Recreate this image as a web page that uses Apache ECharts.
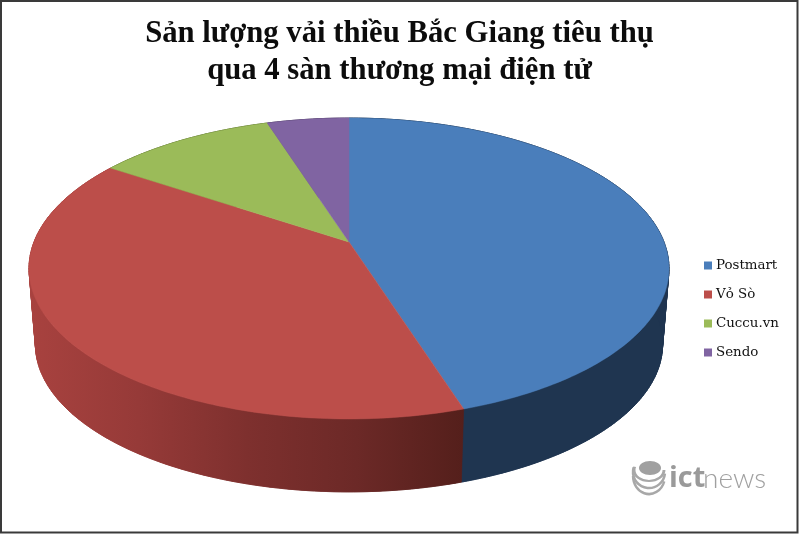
<!DOCTYPE html>
<html>
<head>
<meta charset="utf-8">
<script src="https://cdn.jsdelivr.net/npm/echarts@6/dist/echarts.min.js"></script>
<style>html,body{margin:0;padding:0;background:#fff}#c{width:799px;height:535px}</style>
</head>
<body>
<div id="c"></div>
<script>
var categories = ['Postmart', 'Vỏ Sò', 'Cuccu.vn', 'Sendo'];
var shares = [45.1, 39.3, 10.7, 4.9];
var topColors = ['#4a7ebb', '#bc4e4a', '#9bbb59', '#8064a2'];
var titleText = 'Sản lượng vải thiều Bắc Giang tiêu thụ\nqua 4 sàn thương mại điện tử';

var chart = echarts.init(document.getElementById('c'), null, {renderer: 'canvas'});

// perspective disc model
var CX = 349, CY = 242, A = 315, B = 145.8, K = 0.176, DROP = 76.5, SHRINK = 0.98;
function project(deg, scale, dy) {
  var t = deg * Math.PI / 180, u = Math.sin(t), v = Math.cos(t), w = 1 + K * v;
  return [CX + scale * A * u / w, CY + dy - scale * B * v / w];
}
var total = shares.reduce(function (a, b) { return a + b; }, 0);
function wallFill(i) {
  if (i === 0) return '#1f3550';
  if (i === 1) return new echarts.graphic.LinearGradient(30, 0, 465, 0, [
    {offset: 0, color: '#a8423f'},
    {offset: 0.25, color: '#963a38'},
    {offset: 0.5, color: '#7e302e'},
    {offset: 0.75, color: '#6c2927'},
    {offset: 1, color: '#541f1b'}
  ], true);
  return i === 2 ? '#5c7030' : '#4c3c62';
}
var series = categories.map(function (name, i) {
  var before = shares.slice(0, i).reduce(function (a, b) { return a + b; }, 0);
  var start = before / total * 360, end = (before + shares[i]) / total * 360;
  return {
    type: 'custom',
    name: name,
    coordinateSystem: 'none',
    silent: true,
    animation: false,
    itemStyle: {color: topColors[i]},
    data: [[shares[i]]],
    renderItem: function () {
      var topPts = [[CX, CY]], children = [], ups = [], downs = [];
      var n = Math.ceil(end - start), wf = wallFill(i), prevUp, prevDown;
      for (var k = 0; k <= n; k++) {
        var d = start + (end - start) * k / n;
        var up = project(d, 1, 0), down = project(d, SHRINK, DROP);
        topPts.push(up); ups.push(up); downs.unshift(down);
        if (k > 0) {
          children.push({type: 'polygon', z2: 2, shape: {points: [prevUp, up, down, prevDown]},
            style: {fill: wf, stroke: wf, lineWidth: 0.8}});
        }
        prevUp = up; prevDown = down;
      }
      children.push({type: 'polygon', z2: 3, shape: {points: ups.concat(downs)},
        style: {fill: wf, stroke: wf, lineWidth: 0.5}});
      children.push({type: 'polygon', z2: 10, shape: {points: topPts},
        style: {fill: topColors[i], stroke: topColors[i], lineWidth: 0.5}});
      return {type: 'group', children: children};
    }
  };
});

function stripe(cx, cy, rx, ry, a0, a1, w) {
  return {type: 'arc', silent: true, z: 100, shape: {cx: 0, cy: 0, r: 1, startAngle: a0, endAngle: a1}, x: cx, y: cy, scaleX: rx, scaleY: ry,
    style: {stroke: '#a8a8a8', lineWidth: w, fill: null, strokeNoScale: true}};
}

chart.setOption({
  animation: false,
  backgroundColor: '#ffffff',
  title: {
    text: titleText, left: 394.5, top: 11, textAlign: 'center',
    textStyle: {fontFamily: 'Liberation Serif', fontWeight: 'bold', fontSize: 30.7, lineHeight: 37, color: '#0c0c0c'}
  },
  legend: {
    orient: 'vertical', left: 704, top: 257.5, padding: 0, icon: 'rect', itemWidth: 8, itemHeight: 8, itemGap: 13,
    itemStyle: {borderWidth: 0},
    data: categories, selectedMode: false,
    textStyle: {fontFamily: 'DejaVu Serif', fontSize: 13.4, color: '#111', padding: [0, 0, 0, -1], lineHeight: 16}
  },
  series: series,
  graphic: [
    {type: 'rect', silent: true, z: 100, shape: {x: 1, y: 1, width: 796.5, height: 531.5},
     style: {fill: null, stroke: '#3a3a3a', lineWidth: 2}},
    {type: 'ellipse', silent: true, z: 100, shape: {cx: 650, cy: 468, rx: 11, ry: 7}, style: {fill: '#a0a0a0'}},
    stripe(649, 470, 15, 11, 0.0, Math.PI + 0.3, 2.5),
    stripe(649, 472, 16, 16, 0.1, Math.PI + 0.3, 2.5),
    stripe(649, 476, 16, 18, 0.3, Math.PI, 2.5),
    {type: 'text', silent: true, z: 100, style: {x: 669, y: 493, text: 'ict', verticalAlign: 'bottom',
      font: 'bold 29px "Open Sans"', fill: '#9a9a9a'}},
    {type: 'text', silent: true, z: 100, style: {x: 703, y: 493, text: 'news', verticalAlign: 'bottom',
      font: '300 28px "Lato"', fill: '#a0a0a0'}}
  ]
});
</script>
</body>
</html>
